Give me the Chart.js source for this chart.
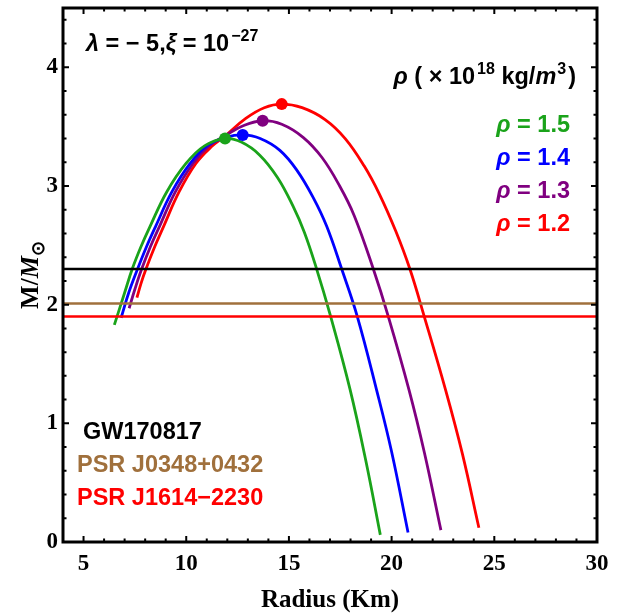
<!DOCTYPE html>
<html>
<head>
<meta charset="utf-8">
<script src="https://cdn.jsdelivr.net/npm/chart.js@4.4.0/dist/chart.umd.min.js"></script>
<style>
  html, body { margin: 0; padding: 0; background: #ffffff; }
  #wrap { width: 619px; height: 615px; }
</style>
</head>
<body>
<div id="wrap"><canvas id="mr" width="619" height="615"></canvas></div>
<script>
// Mass–radius relations for four central densities (rho in 1e18 kg/m^3)
const densityLabels = ['1.5', '1.4', '1.3', '1.2'];
const curveColors = ['#1aa31a', '#0000ff', '#800080', '#ff0000'];

const radiusRho15 = [6.50, 7.00, 7.37, 7.80, 8.24, 9.05, 9.99, 10.91, 11.89, 12.68, 13.58, 14.45, 15.20, 15.75, 16.35, 17.00, 17.97, 18.75, 19.45];
const massRho15   = [1.83, 2.10, 2.30, 2.49, 2.66, 2.95, 3.19, 3.34, 3.40, 3.37, 3.26, 3.07, 2.83, 2.61, 2.30, 1.92, 1.29, 0.68, 0.06];

const radiusRho14 = [6.83, 7.20, 7.63, 8.07, 8.51, 9.30, 10.19, 11.02, 11.95, 12.75, 13.60, 14.56, 15.40, 16.19, 16.84, 17.57, 18.33, 19.27, 20.00, 20.80];
const massRho14   = [1.89, 2.10, 2.30, 2.49, 2.66, 2.95, 3.19, 3.34, 3.41, 3.43, 3.40, 3.30, 3.13, 2.90, 2.66, 2.30, 1.90, 1.28, 0.76, 0.08];

const radiusRho13 = [7.22, 7.50, 7.83, 8.26, 8.70, 9.47, 10.33, 11.12, 11.95, 12.80, 13.72, 14.65, 15.69, 16.61, 17.47, 18.18, 19.11, 19.84, 20.85, 21.60, 22.40];
const massRho13   = [1.97, 2.13, 2.30, 2.49, 2.66, 2.95, 3.19, 3.34, 3.43, 3.51, 3.55, 3.52, 3.41, 3.24, 3.00, 2.75, 2.30, 1.90, 1.28, 0.75, 0.10];

const radiusRho12 = [7.60, 7.80, 8.04, 8.47, 8.90, 9.65, 10.47, 11.22, 11.95, 12.90, 13.80, 14.65, 15.64, 16.76, 17.74, 18.66, 19.41, 20.20, 20.89, 21.59, 22.63, 23.45, 24.25];
const massRho12   = [2.06, 2.18, 2.30, 2.49, 2.66, 2.95, 3.19, 3.33, 3.43, 3.57, 3.66, 3.69, 3.66, 3.56, 3.40, 3.17, 2.93, 2.62, 2.30, 1.90, 1.28, 0.74, 0.12];

// Maximum-mass configurations
const peakRadius = [11.89, 12.75, 13.72, 14.65];
const peakMass   = [3.40, 3.43, 3.55, 3.69];

// Observational mass constraints
const obsNames  = ['GW170817', 'PSR J0348+0432', 'PSR J1614\u22122230'];
const obsMass   = [2.30, 2.01, 1.90];
const obsColors = ['#000000', '#a0703c', '#ff0000'];

// Axis ranges and labelled ticks
const xRange = [4, 30];
const yRange = [0, 4.5];
const xTicks = [5, 10, 15, 20, 25, 30];
const yTicks = [0, 1, 2, 3, 4];

const SANS = '"Liberation Sans", Arial, sans-serif';
const SERIF = '"Liberation Serif", "Times New Roman", serif';

const curveRadii = [radiusRho15, radiusRho14, radiusRho13, radiusRho12];
const curveMasses = [massRho15, massRho14, massRho13, massRho12];
const toPoints = (xs, ys) => xs.map((v, i) => ({ x: v, y: ys[i] }));

const datasets = [];
// peak markers on top
peakRadius.forEach((r, i) => {
  datasets.push({
    data: [{ x: r, y: peakMass[i] }],
    showLine: false,
    pointRadius: 6,
    pointBackgroundColor: curveColors[i],
    pointBorderWidth: 0
  });
});
// horizontal constraint lines
obsMass.forEach((m, i) => {
  datasets.push({
    data: [{ x: xRange[0], y: m }, { x: xRange[1], y: m }],
    showLine: true,
    borderColor: obsColors[i],
    borderWidth: 2.5,
    pointRadius: 0
  });
});
// M-R curves
curveRadii.forEach((xs, i) => {
  datasets.push({
    data: toPoints(xs, curveMasses[i]),
    showLine: true,
    borderColor: curveColors[i],
    borderWidth: 2.8,
    pointRadius: 0,
    tension: 0.4,
    fill: false
  });
});

// draw a run of text segments with mixed styles (italic, superscript, subscript)
function richText(ctx, segs, x, y, align, size, family, color) {
  const parts = segs.map(s => {
    const fs = (s.sup || s.sub) ? Math.round(size * 0.7) : size;
    const font = (s.italic ? 'italic ' : '') + 'bold ' + fs + 'px ' + family;
    ctx.font = font;
    const w = ctx.measureText(s.t).width + (s.gap || 0);
    const dy = s.sup ? -size * 0.42 : (s.sub ? size * 0.22 : 0);
    return { t: s.t, font, w, dy, gap: s.gap || 0 };
  });
  const total = parts.reduce((a, p) => a + p.w, 0);
  let cx = align === 'right' ? x - total : (align === 'center' ? x - total / 2 : x);
  ctx.fillStyle = color;
  ctx.textBaseline = 'alphabetic';
  ctx.textAlign = 'left';
  parts.forEach(p => {
    ctx.font = p.font;
    ctx.fillText(p.t, cx + p.gap, y + p.dy);
    cx += p.w;
  });
}

const framePlugin = {
  id: 'frameTicks',
  afterDatasetsDraw(chart) {
    const { ctx, chartArea: a, scales: { x, y } } = chart;
    ctx.save();
    ctx.strokeStyle = '#000';
    ctx.lineWidth = 2;
    ctx.beginPath();
    for (let v = xRange[0] + 1; v < xRange[1]; v++) {
      const px = x.getPixelForValue(v);
      const len = v % 5 === 0 ? 6 : 3.5;
      ctx.moveTo(px, a.bottom); ctx.lineTo(px, a.bottom - len);
      ctx.moveTo(px, a.top); ctx.lineTo(px, a.top + len);
    }
    for (let k = 1; k * 0.2 < yRange[1] - 1e-9; k++) {
      const py = y.getPixelForValue(k * 0.2);
      const len = k % 5 === 0 ? 6 : 3.5;
      ctx.moveTo(a.left, py); ctx.lineTo(a.left + len, py);
      ctx.moveTo(a.right, py); ctx.lineTo(a.right - len, py);
    }
    ctx.stroke();
    ctx.lineWidth = 3;
    ctx.strokeRect(a.left, a.top, a.right - a.left, a.bottom - a.top);

    // parameter note
    richText(ctx, [
      { t: '\u03bb', italic: true }, { t: ' = \u2212 5,' },
      { t: '\u03be', italic: true }, { t: ' = 10' }, { t: '\u221227', sup: true, gap: 2 }
    ], 86, 51, 'left', 23.5, SANS, '#000');

    // density unit
    richText(ctx, [
      { t: '\u03c1', italic: true }, { t: ' ( \u00d7 10' }, { t: '18', sup: true, gap: 2 },
      { t: ' kg/' }, { t: 'm', italic: true }, { t: '3', sup: true, gap: 1 }, { t: ')', gap: 2 }
    ], 576, 84, 'right', 23.5, SANS, '#000');

    // density legend
    const legendY = [132, 165, 198, 231];
    densityLabels.forEach((d, i) => {
      richText(ctx, [{ t: '\u03c1', italic: true }, { t: ' = ' + d }],
        570, legendY[i], 'right', 23.5, SANS, curveColors[i]);
    });

    // constraint names
    const nameX = [83, 77, 77];
    const nameY = [439, 472, 505];
    obsNames.forEach((n, i) => {
      richText(ctx, [{ t: n }], nameX[i], nameY[i], 'left', 23.5, SANS, obsColors[i]);
    });

    // axis titles
    richText(ctx, [{ t: 'Radius (Km)' }], (a.left + a.right) / 2, 607, 'center', 25, SERIF, '#000');
    ctx.translate(38, (a.top + a.bottom) / 2);
    ctx.rotate(-Math.PI / 2);
    richText(ctx, [{ t: 'M/' }, { t: 'M', italic: true }, { t: '\u2299', sub: true }],
      0, 0, 'center', 25, SERIF, '#000');
    ctx.restore();
  }
};

new Chart(document.getElementById('mr'), {
  type: 'scatter',
  data: { datasets },
  options: {
    responsive: false,
    animation: false,
    devicePixelRatio: 1,
    layout: { padding: { top: 8, right: 22, left: 0, bottom: 0 } },
    plugins: { legend: { display: false }, tooltip: { enabled: false } },
    scales: {
      x: {
        type: 'linear', min: xRange[0], max: xRange[1],
        grid: { display: false, drawTicks: false },
        border: { display: false },
        afterBuildTicks: s => { s.ticks = xTicks.map(v => ({ value: v })); },
        afterFit: s => { s.height = 73; s.paddingLeft = 0; s.paddingRight = 0; },
        ticks: { font: { family: SERIF, size: 23, weight: 'bold' }, color: '#000', padding: 8, maxRotation: 0, autoSkip: false }
      },
      y: {
        type: 'linear', min: yRange[0], max: yRange[1],
        grid: { display: false, drawTicks: false },
        border: { display: false },
        afterBuildTicks: s => { s.ticks = yTicks.map(v => ({ value: v })); },
        afterFit: s => { s.width = 63; s.paddingTop = 0; s.paddingBottom = 0; },
        ticks: { font: { family: SERIF, size: 23, weight: 'bold' }, color: '#000', padding: 5, autoSkip: false }
      }
    }
  },
  plugins: [framePlugin]
});
</script>
</body>
</html>
